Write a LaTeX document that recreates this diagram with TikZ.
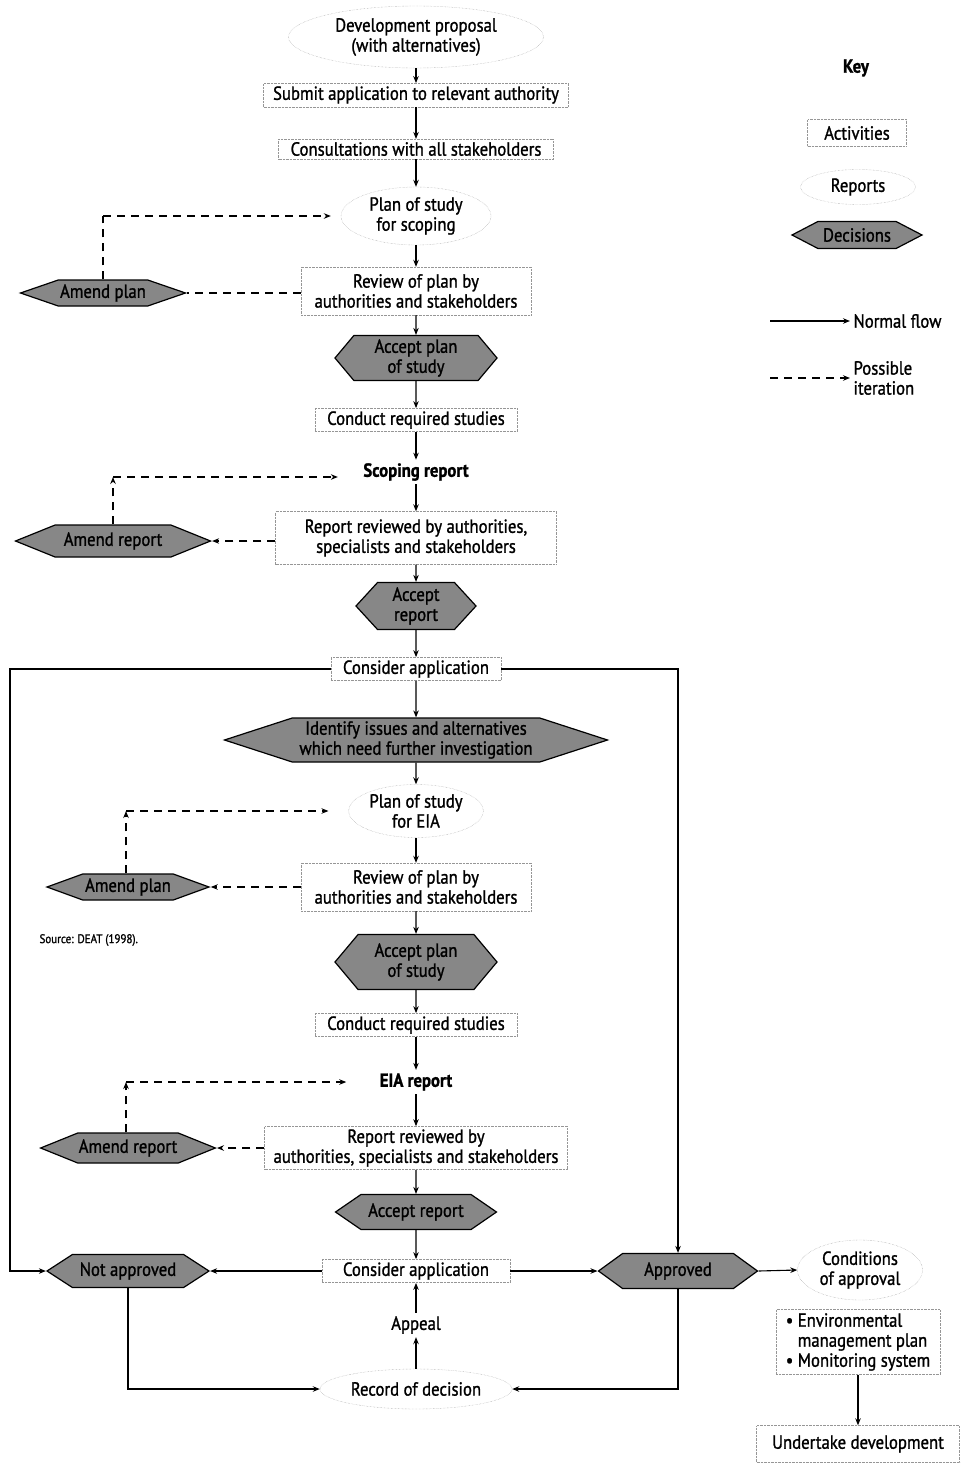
\documentclass[tikz,border=0pt]{standalone}
\usepackage{fontspec}
\setmainfont{PT Sans}[FakeStretch=0.88, FakeBold=1.2]
\usepackage{tikz}
\usetikzlibrary{arrows,arrows.meta,shapes,positioning}
\definecolor{boxgray}{RGB}{150,150,150}
\definecolor{decgray}{RGB}{135,135,135}
\tikzstyle{activity} = [draw=boxgray, densely dotted, thin, inner sep=3pt, align=center]
\tikzstyle{report} = [ellipse, draw=boxgray, densely dotted, thin, inner sep=1pt, align=center]
\tikzstyle{decision} = [signal, signal to=west and east, draw=black, very thick, fill=decgray, inner sep=1pt, align=center]
\tikzstyle{arrow} = [line width=1.1pt,-{Stealth[length=7pt,width=5.5pt]}]
\tikzstyle{iter} = [line width=1.1pt,-{Stealth[length=7pt,width=5.5pt]},dash pattern=on 8pt off 6pt]

\begin{document}
\begin{tikzpicture}[x=1pt, y=-1pt, every node/.style={font=\fontsize{19}{20}\selectfont}]
\useasboundingbox (0,0) rectangle (964,1464);
% main column
\node[report, minimum width=255, minimum height=62] (dp) at (416,37) {Development proposal\\(with alternatives)};
\node[activity, minimum width=305] (sub) at (416,95) {Submit application to relevant authority};
\node[activity, minimum width=275] (con) at (416,149) {Consultations with all stakeholders};
\node[report, minimum width=150, minimum height=58] (pss) at (416,216) {Plan of study\\for scoping};
\node[activity, minimum width=230, minimum height=48] (rev1) at (416,291) {Review of plan by\\authorities and stakeholders};
\node[decision, minimum width=162, minimum height=45, signal pointer angle=100] (acc1) at (416,358) {Accept plan\\of study};
\node[activity, minimum width=202] (crs1) at (416,420) {Conduct required studies};
\node[font=\fontsize{19}{20}\selectfont\bfseries] (scr) at (416,472) {Scoping report};
\node[activity, minimum width=281, minimum height=53] (rr1) at (416,538) {Report reviewed by authorities,\\specialists and stakeholders};
\node[decision, minimum width=120, minimum height=47, signal pointer angle=95] (acr1) at (416,606) {Accept\\report};
\node[activity, minimum width=170] (ca1) at (416,669) {Consider application};
\node[decision, minimum width=383, minimum height=44, signal pointer angle=36] (iden) at (416,740) {Identify issues and alternatives\\which need further investigation};
\node[report, minimum width=130, minimum height=53] (pse) at (416,811) {Plan of study\\for EIA};
\node[activity, minimum width=230, minimum height=48] (rev2) at (416,887) {Review of plan by\\authorities and stakeholders};
\node[decision, minimum width=162, minimum height=55, signal pointer angle=100] (acc2) at (416,962) {Accept plan\\of study};
\node[activity, minimum width=202] (crs2) at (416,1025) {Conduct required studies};
\node[font=\fontsize{19}{20}\selectfont\bfseries] (eia) at (416,1082) {EIA report};
\node[activity, minimum width=303, minimum height=42] (rr2) at (416,1148) {Report reviewed by\\authorities, specialists and stakeholders};
\node[decision, minimum width=161, minimum height=35, signal pointer angle=69] (acr2) at (416,1212) {Accept report};
\node[activity, minimum width=188] (ca2) at (416,1271) {Consider application};
\node (app) at (416,1325) {Appeal};
\node[report, minimum width=192, minimum height=40] (rod) at (416,1389) {Record of decision};
% outcomes
\node[decision, minimum width=162, minimum height=33, signal pointer angle=66] (nap) at (128,1271) {Not approved};
\node[decision, minimum width=159, minimum height=35, signal pointer angle=72] (apd) at (678,1271) {Approved};
\node[report, minimum width=125, minimum height=60] (coa) at (860,1270) {Conditions\\of approval};
\node[activity, minimum width=164, minimum height=65, align=left] (env) at (858,1342) {\textbullet\ Environmental\\\phantom{\textbullet\ }management plan\\\textbullet\ Monitoring system};
\node[activity, minimum width=203, minimum height=37] (und) at (858,1444) {Undertake development};
% amendments
\node[decision, minimum width=165, minimum height=26, signal pointer angle=38] (amp1) at (103,293) {Amend plan};
\node[decision, minimum width=195, minimum height=32, signal pointer angle=44] (amr1) at (113,541) {Amend report};
\node[decision, minimum width=162, minimum height=26, signal pointer angle=40] (amp2) at (128,887) {Amend plan};
\node[decision, minimum width=164, minimum height=30, signal pointer angle=44] (amr2) at (128,1148) {Amend report};
\node[anchor=west, font=\fontsize{12.5}{13}\selectfont] (src) at (36,940) {Source: DEAT (1998).};
% key
\node[font=\fontsize{19}{20}\selectfont\bfseries] (key) at (856,68) {Key};
\node[activity, minimum width=99, minimum height=27] (ka) at (857,133) {Activities};
\node[report, minimum width=115, minimum height=35] (kr) at (858,187) {Reports};
\node[decision, minimum width=130, minimum height=27, signal pointer angle=55] (kd) at (857,235) {Decisions};
\coordinate (nf0) at (770,321);
\node[anchor=west] (nf) at (850,321) {Normal flow};
\coordinate (pi0) at (770,378);
\node[anchor=west, align=left] (pi) at (850,378) {Possible\\iteration};
\draw[arrow] (nf0) -- (nf.west);
\draw[iter] (pi0) -- (pi.west);

% normal flow
\foreach \a/\b in {dp/sub, sub/con, con/pss, pss/rev1, rev1/acc1, acc1/crs1, crs1/scr, scr/rr1, rr1/acr1, acr1/ca1, ca1/iden, iden/pse, pse/rev2, rev2/acc2, acc2/crs2, crs2/eia, eia/rr2, rr2/acr2, acr2/ca2, rod/app, app/ca2, env/und}
  \draw[arrow] (\a) -- (\b);
\coordinate (lft) at (10,1271);
\draw[arrow] (ca1.west) -| (lft) -- (nap.west);
\draw[arrow] (ca1.east) -| (apd.north);
\draw[arrow] (ca2.west) -- (nap.east);
\draw[arrow] (ca2.east) -- (apd.west);
\draw[arrow] (apd.east) -- (coa.west);
\draw[arrow] (nap.south) |- (rod.west);
\draw[arrow] (apd.south) |- (rod.east);

% iterations
\coordinate (t1) at (103,216);
\coordinate (t2) at (113,477);
\coordinate (t3) at (126,811);
\coordinate (t4) at (126,1082);
\draw[iter,-] (rev1.west |- amp1) -- (amp1.east);
\draw[iter,-] (amp1.north) -- (t1);
\draw[iter, shorten >=10pt] (t1) -- (pss.west |- t1);
\draw[iter] (rr1.west |- amr1) -- (amr1.east);
\draw[iter] (amr1.north) -- (t2);
\draw[iter, shorten >=22pt] (t2) -- (scr.west |- t2);
\draw[iter] (rev2.west) -- (amp2.east);
\draw[iter] (amp2.north -| t3) -- (t3);
\draw[iter, shorten >=20pt] (t3) -- (pse.west |- t3);
\draw[iter] (rr2.west) -- (amr2.east);
\draw[iter] (amr2.north -| t4) -- (t4);
\draw[iter, shorten >=30pt] (t4) -- (eia.west |- t4);
\end{tikzpicture}
\end{document}
